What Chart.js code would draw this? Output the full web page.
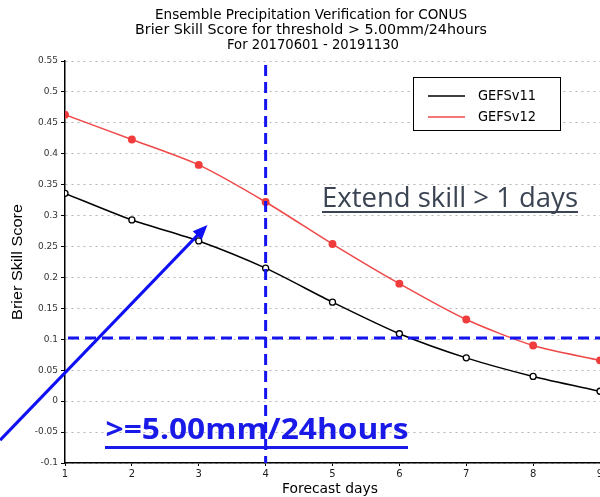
<!DOCTYPE html>
<html>
<head>
<meta charset="utf-8">
<script src="https://cdn.jsdelivr.net/npm/chart.js@4"></script>
<style>
  html, body { margin: 0; padding: 0; background: #fff; overflow: hidden; }
  #bss { display: block; }
</style>
</head>
<body>
<canvas id="bss" width="600" height="497"></canvas>
<script>
// values
let days = [1, 2, 3, 4, 5, 6, 7, 8, 9];
let gefsv11 = [0.336, 0.293, 0.259, 0.215, 0.160, 0.109, 0.070, 0.040, 0.016];
let gefsv12 = [0.463, 0.423, 0.382, 0.322, 0.254, 0.190, 0.132, 0.090, 0.066];
let yTicks = [-0.1, -0.05, 0, 0.05, 0.1, 0.15, 0.2, 0.25, 0.3, 0.35, 0.4, 0.45, 0.5, 0.55];
let titleLines = [
    'Ensemble Precipitation Verification for CONUS',
    'Brier Skill Score for threshold > 5.00mm/24hours',
    'For 20170601 - 20191130'
];
let refDay = 4;        // blue dashed vertical line
let refScore = 0.102;  // blue dashed horizontal line
let arrowFrom = [0.03, -0.063];
let arrowTo = [3.13, 0.285];

// 텍스트를 주어진 폭에 맞춰 그리기
function fitText(ctx, txt, cx, cy, w, font){
    ctx.save();
    ctx.font = font;
    let m = ctx.measureText(txt).width;
    ctx.translate(cx, cy);
    ctx.scale(w / m, 1);
    ctx.textAlign = 'center';
    ctx.textBaseline = 'middle';
    ctx.fillText(txt, 0, 0);
    ctx.restore();
}

let decorations = {
    id: 'decorations',
    afterDatasetsDraw(chart){
        let ctx = chart.ctx;
        let xs = chart.scales.x, ys = chart.scales.y;
        let area = chart.chartArea;
        ctx.save();
        // title
        ctx.fillStyle = '#000';
        fitText(ctx, titleLines[0], 311, 15, 312, '14px "DejaVu Sans"');
        fitText(ctx, titleLines[1], 311, 30, 352, '14px "DejaVu Sans"');
        fitText(ctx, titleLines[2], 313, 45, 172, '14px "DejaVu Sans"');
        // axis titles
        fitText(ctx, 'Forecast days', 330, 489, 96, '14px "DejaVu Sans"');
        ctx.save();
        ctx.translate(18, 262);
        ctx.rotate(-Math.PI / 2);
        fitText(ctx, 'Brier Skill Score', 0, 0, 116, '15px "Liberation Sans"');
        ctx.restore();

        // legend
        ctx.fillStyle = '#fff';
        ctx.fillRect(413, 77, 147, 53);
        ctx.strokeStyle = '#000';
        ctx.lineWidth = 1;
        ctx.strokeRect(413.5, 77.5, 147, 53);
        ctx.lineWidth = 1.5;
        ctx.beginPath(); ctx.moveTo(428, 96); ctx.lineTo(465, 96); ctx.stroke();
        ctx.strokeStyle = '#f04848';
        ctx.beginPath(); ctx.moveTo(428, 117); ctx.lineTo(465, 117); ctx.stroke();
        ctx.fillStyle = '#000';
        fitText(ctx, 'GEFSv11', 507, 96, 58, '14px "DejaVu Sans"');
        fitText(ctx, 'GEFSv12', 507, 117, 58, '14px "DejaVu Sans"');

        // blue dashed reference lines
        ctx.strokeStyle = '#1414f0';
        ctx.lineWidth = 3;
        ctx.setLineDash([11, 6]);
        let vx = xs.getPixelForValue(refDay);
        ctx.beginPath(); ctx.moveTo(vx, area.top + 4); ctx.lineTo(vx, area.bottom); ctx.stroke();
        let hy = ys.getPixelForValue(refScore);
        ctx.beginPath(); ctx.moveTo(area.left + 3, hy); ctx.lineTo(area.right, hy); ctx.stroke();
        ctx.setLineDash([]);

        // arrow
        let ax0 = xs.getPixelForValue(arrowFrom[0]), ay0 = ys.getPixelForValue(arrowFrom[1]);
        let ax1 = xs.getPixelForValue(arrowTo[0]), ay1 = ys.getPixelForValue(arrowTo[1]);
        let ang = Math.atan2(ay1 - ay0, ax1 - ax0);
        let hl = 16;
        ctx.strokeStyle = '#1010f5';
        ctx.fillStyle = '#1010f5';
        ctx.lineWidth = 3;
        ctx.beginPath();
        ctx.moveTo(ax0, ay0);
        ctx.lineTo(ax1 - hl * 0.8 * Math.cos(ang), ay1 - hl * 0.8 * Math.sin(ang));
        ctx.stroke();
        ctx.beginPath();
        ctx.moveTo(ax1, ay1);
        ctx.lineTo(ax1 - hl * Math.cos(ang - 0.4), ay1 - hl * Math.sin(ang - 0.4));
        ctx.lineTo(ax1 - hl * Math.cos(ang + 0.4), ay1 - hl * Math.sin(ang + 0.4));
        ctx.closePath();
        ctx.fill();

        // annotation texts
        ctx.fillStyle = '#3a4452';
        fitText(ctx, 'Extend skill > 1 days', 450, 199, 256, '28px "Open Sans"');
        ctx.fillRect(322, 211, 256, 2);
        ctx.fillStyle = '#1a1ae8';
        fitText(ctx, '>=5.00mm/24hours', 257, 431, 303, 'bold 28px "Open Sans"');
        ctx.fillRect(105, 446, 303, 3);
        ctx.restore();
    }
};

let ctx = document.getElementById('bss');
let myChart = new Chart(ctx, {
    type: 'line',
    data: {
        labels: days,
        datasets: [{
            label: 'GEFSv11',
            data: gefsv11,
            borderColor: '#000',
            borderWidth: 1.5,
            pointBackgroundColor: '#fff',
            pointBorderColor: '#000',
            pointBorderWidth: 1.3,
            pointRadius: 3,
            tension: 0.25
        }, {
            label: 'GEFSv12',
            data: gefsv12,
            borderColor: '#f04848',
            borderWidth: 1.5,
            pointBackgroundColor: '#f03c3c',
            pointBorderColor: '#f03c3c',
            pointRadius: 3.2,
            tension: 0.25
        }]
    },
    options: {
        responsive: false,
        animation: false,
        devicePixelRatio: 1,
        layout: { autoPadding: false, padding: { top: 61, left: 0, right: 0, bottom: 0 } },
        plugins: {
            legend: { display: false },
            title: { display: false },
            tooltip: { enabled: false }
        },
        scales: {
            x: {
                type: 'linear',
                min: 1,
                max: 9,
                afterFit: (s) => { s.height = 34; s.paddingLeft = 0; s.paddingRight = 0; },
                ticks: {
                    stepSize: 1,
                    color: '#222',
                    padding: 2,
                    font: { family: 'DejaVu Sans', size: 10 }
                },
                grid: { drawOnChartArea: false, tickLength: 3, tickColor: '#000' },
                border: { color: '#000', width: 1.5 }
            },
            y: {
                min: -0.1,
                max: 0.55,
                afterFit: (s) => { s.width = 65; s.paddingTop = 0; s.paddingBottom = 0; },
                afterBuildTicks: (s) => { s.ticks = yTicks.map((v) => ({value: v})); },
                ticks: {
                    color: '#333',
                    padding: 3,
                    font: { family: 'DejaVu Sans', size: 9 },
                    callback: (v) => String(Number(v.toFixed(2)))
                },
                grid: { color: '#b4b4b4', lineWidth: 1, tickLength: 4, tickColor: '#000', tickBorderDash: [] },
                border: { color: '#000', width: 1.5, dash: [2, 4] }
            }
        }
    },
    plugins: [decorations]
});
</script>
</body>
</html>
